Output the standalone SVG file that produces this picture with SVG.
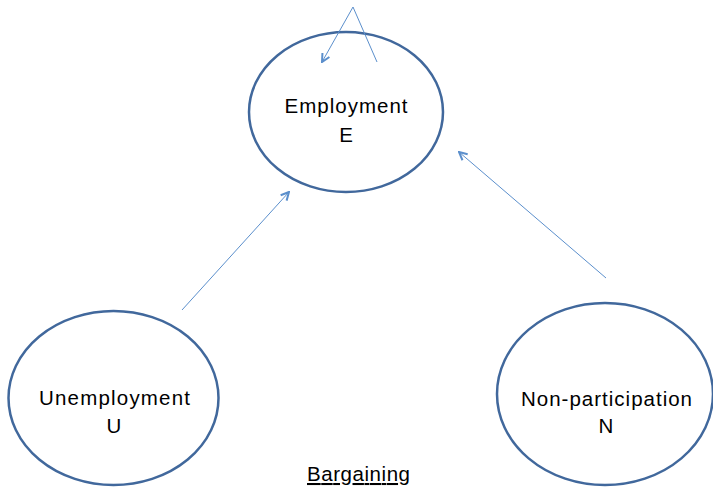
<svg xmlns="http://www.w3.org/2000/svg" width="713" height="487" viewBox="0 0 713 487">
<style>
.node{fill:#fff;stroke:#41689c;stroke-width:2.5}
.lbl{font-family:"Liberation Sans",Arial,sans-serif;font-size:20.5px;fill:#000;text-anchor:middle}
.conn{fill:none;stroke:#5b8fcc;stroke-width:1}
</style>
<defs>
<marker id="ah" viewBox="0 0 10 10" refX="9" refY="5" markerWidth="10" markerHeight="10" markerUnits="userSpaceOnUse" orient="auto">
<path d="M1,1 L9,5 L1,9" fill="none" stroke="#5b8fcc" stroke-width="2"/>
</marker>
</defs>
<rect width="713" height="487" fill="#fff"/>
<g id="employment">
<ellipse class="node" cx="346" cy="112" rx="97" ry="80"/>
<text class="lbl" x="346" y="113" textLength="123">Employment</text>
<text class="lbl" x="346" y="142">E</text>
</g>
<g id="unemployment">
<ellipse class="node" cx="113.5" cy="398" rx="105" ry="87"/>
<text class="lbl" x="114.5" y="405" textLength="151">Unemployment</text>
<text class="lbl" x="114" y="433">U</text>
</g>
<g id="nonparticipation">
<ellipse class="node" cx="605" cy="394" rx="108" ry="91"/>
<text class="lbl" x="606.5" y="406" textLength="171">Non-participation</text>
<text class="lbl" x="606" y="433">N</text>
</g>
<g id="connectors">
<polyline class="conn" points="377,62 353,7 322,62" marker-end="url(#ah)"/>
<line class="conn" x1="182" y1="310" x2="289" y2="192" marker-end="url(#ah)"/>
<line class="conn" x1="606" y1="278" x2="459" y2="152" marker-end="url(#ah)"/>
</g>
<text class="lbl" x="358.5" y="481" textLength="103" text-decoration="underline">Bargaining</text>
</svg>
